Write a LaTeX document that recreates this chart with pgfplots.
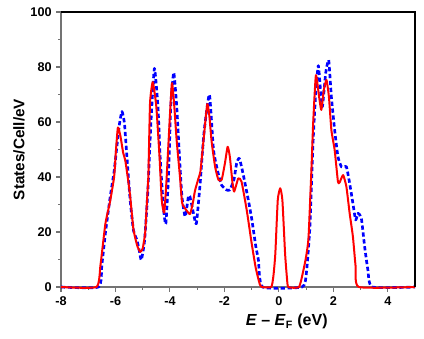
\documentclass[border=0pt]{standalone}
\usepackage{fontspec}
\setmainfont{Liberation Sans}
\usepackage{pgfplots}
\pgfplotsset{compat=1.18}
\begin{document}
\begin{tikzpicture}
\begin{axis}[
  scale only axis,
  width=265.5pt, height=206.25pt,
  xmin=-8, xmax=5, ymin=0, ymax=100,
  xtick={-8,-6,...,4}, ytick={0,20,...,100},
  minor x tick num=1, minor y tick num=1,
  axis x line*=bottom, axis y line*=left,
  axis line style={draw=black!55, line width=0.8pt},
  tick style={draw=black!55, line width=0.8pt},
  tick align=outside,
  major tick length=3.5pt, minor tick length=2pt,
  /pgf/number format/assume math mode=true,
  tick label style={font=\fontsize{9.5}{11}\selectfont\bfseries},
  ylabel={States/Cell/eV},
  xlabel={\textit{E} – \textit{E}\textsubscript{F} (eV)},
  ylabel style={at={(axis description cs:-0.1186,0.5)}, anchor=center, rotate=0, font=\fontsize{11.5}{13}\selectfont\bfseries},
  xlabel style={at={(axis description cs:0.6376,-0.1406)}, anchor=base, font=\fontsize{12}{14}\selectfont\bfseries},
  clip=false,
]
\addplot[blue, line width=2pt, dash pattern=on 3.2pt off 2pt, line join=round, smooth, tension=0.3] coordinates {
(-8,0) (-6.62,0) (-6.5,8) (-6.37,19.6) (-6.19,33) (-6.05,42) (-5.95,51) (-5.85,59.5) (-5.76,63.8) (-5.67,59.5) (-5.58,47.4) (-5.46,31.6) (-5.34,20.7) (-5.21,17) (-5.12,13) (-5.05,9.8) (-4.93,17) (-4.81,35) (-4.7,59.5) (-4.57,79.5) (-4.44,65.6) (-4.36,47.4) (-4.24,29) (-4.15,23) (-4.05,41) (-3.97,65.6) (-3.86,78) (-3.75,65.6) (-3.65,47.4) (-3.56,33) (-3.44,25.6) (-3.32,33) (-3.27,33) (-3.2,30) (-3.14,27) (-3.03,23) (-2.89,37.7) (-2.75,56) (-2.55,70) (-2.4,49.8) (-2.22,41) (-2.1,37) (-1.92,35.3) (-1.8,35.3) (-1.65,39) (-1.55,45) (-1.45,46.8) (-1.31,41) (-1.12,31.6) (-0.99,24.4) (-0.85,15) (-0.75,9.8) (-0.6,0) (0.85,0) (1.01,5) (1.14,22) (1.26,53.5) (1.36,71.6) (1.45,80.5) (1.53,71.6) (1.6,65.6) (1.72,77.7) (1.83,82.5) (1.93,69) (2.05,57) (2.17,47.4) (2.3,43.7) (2.48,43.7) (2.6,37.7) (2.72,30.4) (2.82,24.4) (2.91,26.8) (3.03,25) (3.15,14.7) (3.27,6.2) (3.43,0) (5,0)
};
\addplot[red, line width=1.5pt, line join=round, smooth, tension=0.3] coordinates {
(-8,0) (-6.70,0) (-6.55,8) (-6.37,23) (-6.2,31) (-6.05,40) (-5.98,50) (-5.91,58) (-5.82,55) (-5.72,49) (-5.64,46) (-5.55,40) (-5.46,33) (-5.34,21) (-5.2,15) (-5.09,12.8) (-5.0,14) (-4.91,19.6) (-4.85,30) (-4.79,41) (-4.73,67) (-4.63,74.5) (-4.5,65.6) (-4.38,47) (-4.3,31.6) (-4.21,27) (-4.13,38) (-4.05,53) (-3.93,74) (-3.85,67) (-3.75,53) (-3.63,40) (-3.55,30.5) (-3.4,28) (-3.26,26.5) (-3.15,31) (-3.08,35) (-2.95,39.6) (-2.88,42) (-2.77,53) (-2.63,66.5) (-2.55,62) (-2.47,53) (-2.34,43.7) (-2.22,39) (-2.1,39) (-1.98,45) (-1.88,51) (-1.8,47.4) (-1.7,37.7) (-1.64,34.7) (-1.49,39.5) (-1.37,38.3) (-1.18,28) (-1.0,16) (-0.85,7) (-0.7,1) (-0.62,0) (-0.28,0) (-0.2,4) (-0.13,12) (-0.04,31.6) (0.05,35.9) (0.13,31.6) (0.23,12) (0.3,3) (0.35,0) (0.74,0) (0.9,6) (1.0,11) (1.09,18) (1.2,43.7) (1.26,59.5) (1.36,77) (1.48,69) (1.56,64.4) (1.65,71.6) (1.75,75.3) (1.84,69) (1.93,57) (2.05,49.8) (2.17,38.3) (2.23,38) (2.36,40.7) (2.48,36.5) (2.6,26.8) (2.72,18.3) (2.82,7.4) (2.94,0) (5,0)
};
\draw[black, line width=0.8pt] (rel axis cs:0,1) -- (rel axis cs:1,1) -- (rel axis cs:1,0);
\end{axis}
\pgfresetboundingbox
\path ([shift={(-45.75pt,-38.25pt)}]current axis.south west) rectangle ([shift={(6.75pt,9pt)}]current axis.north east);
\end{tikzpicture}
\end{document}
